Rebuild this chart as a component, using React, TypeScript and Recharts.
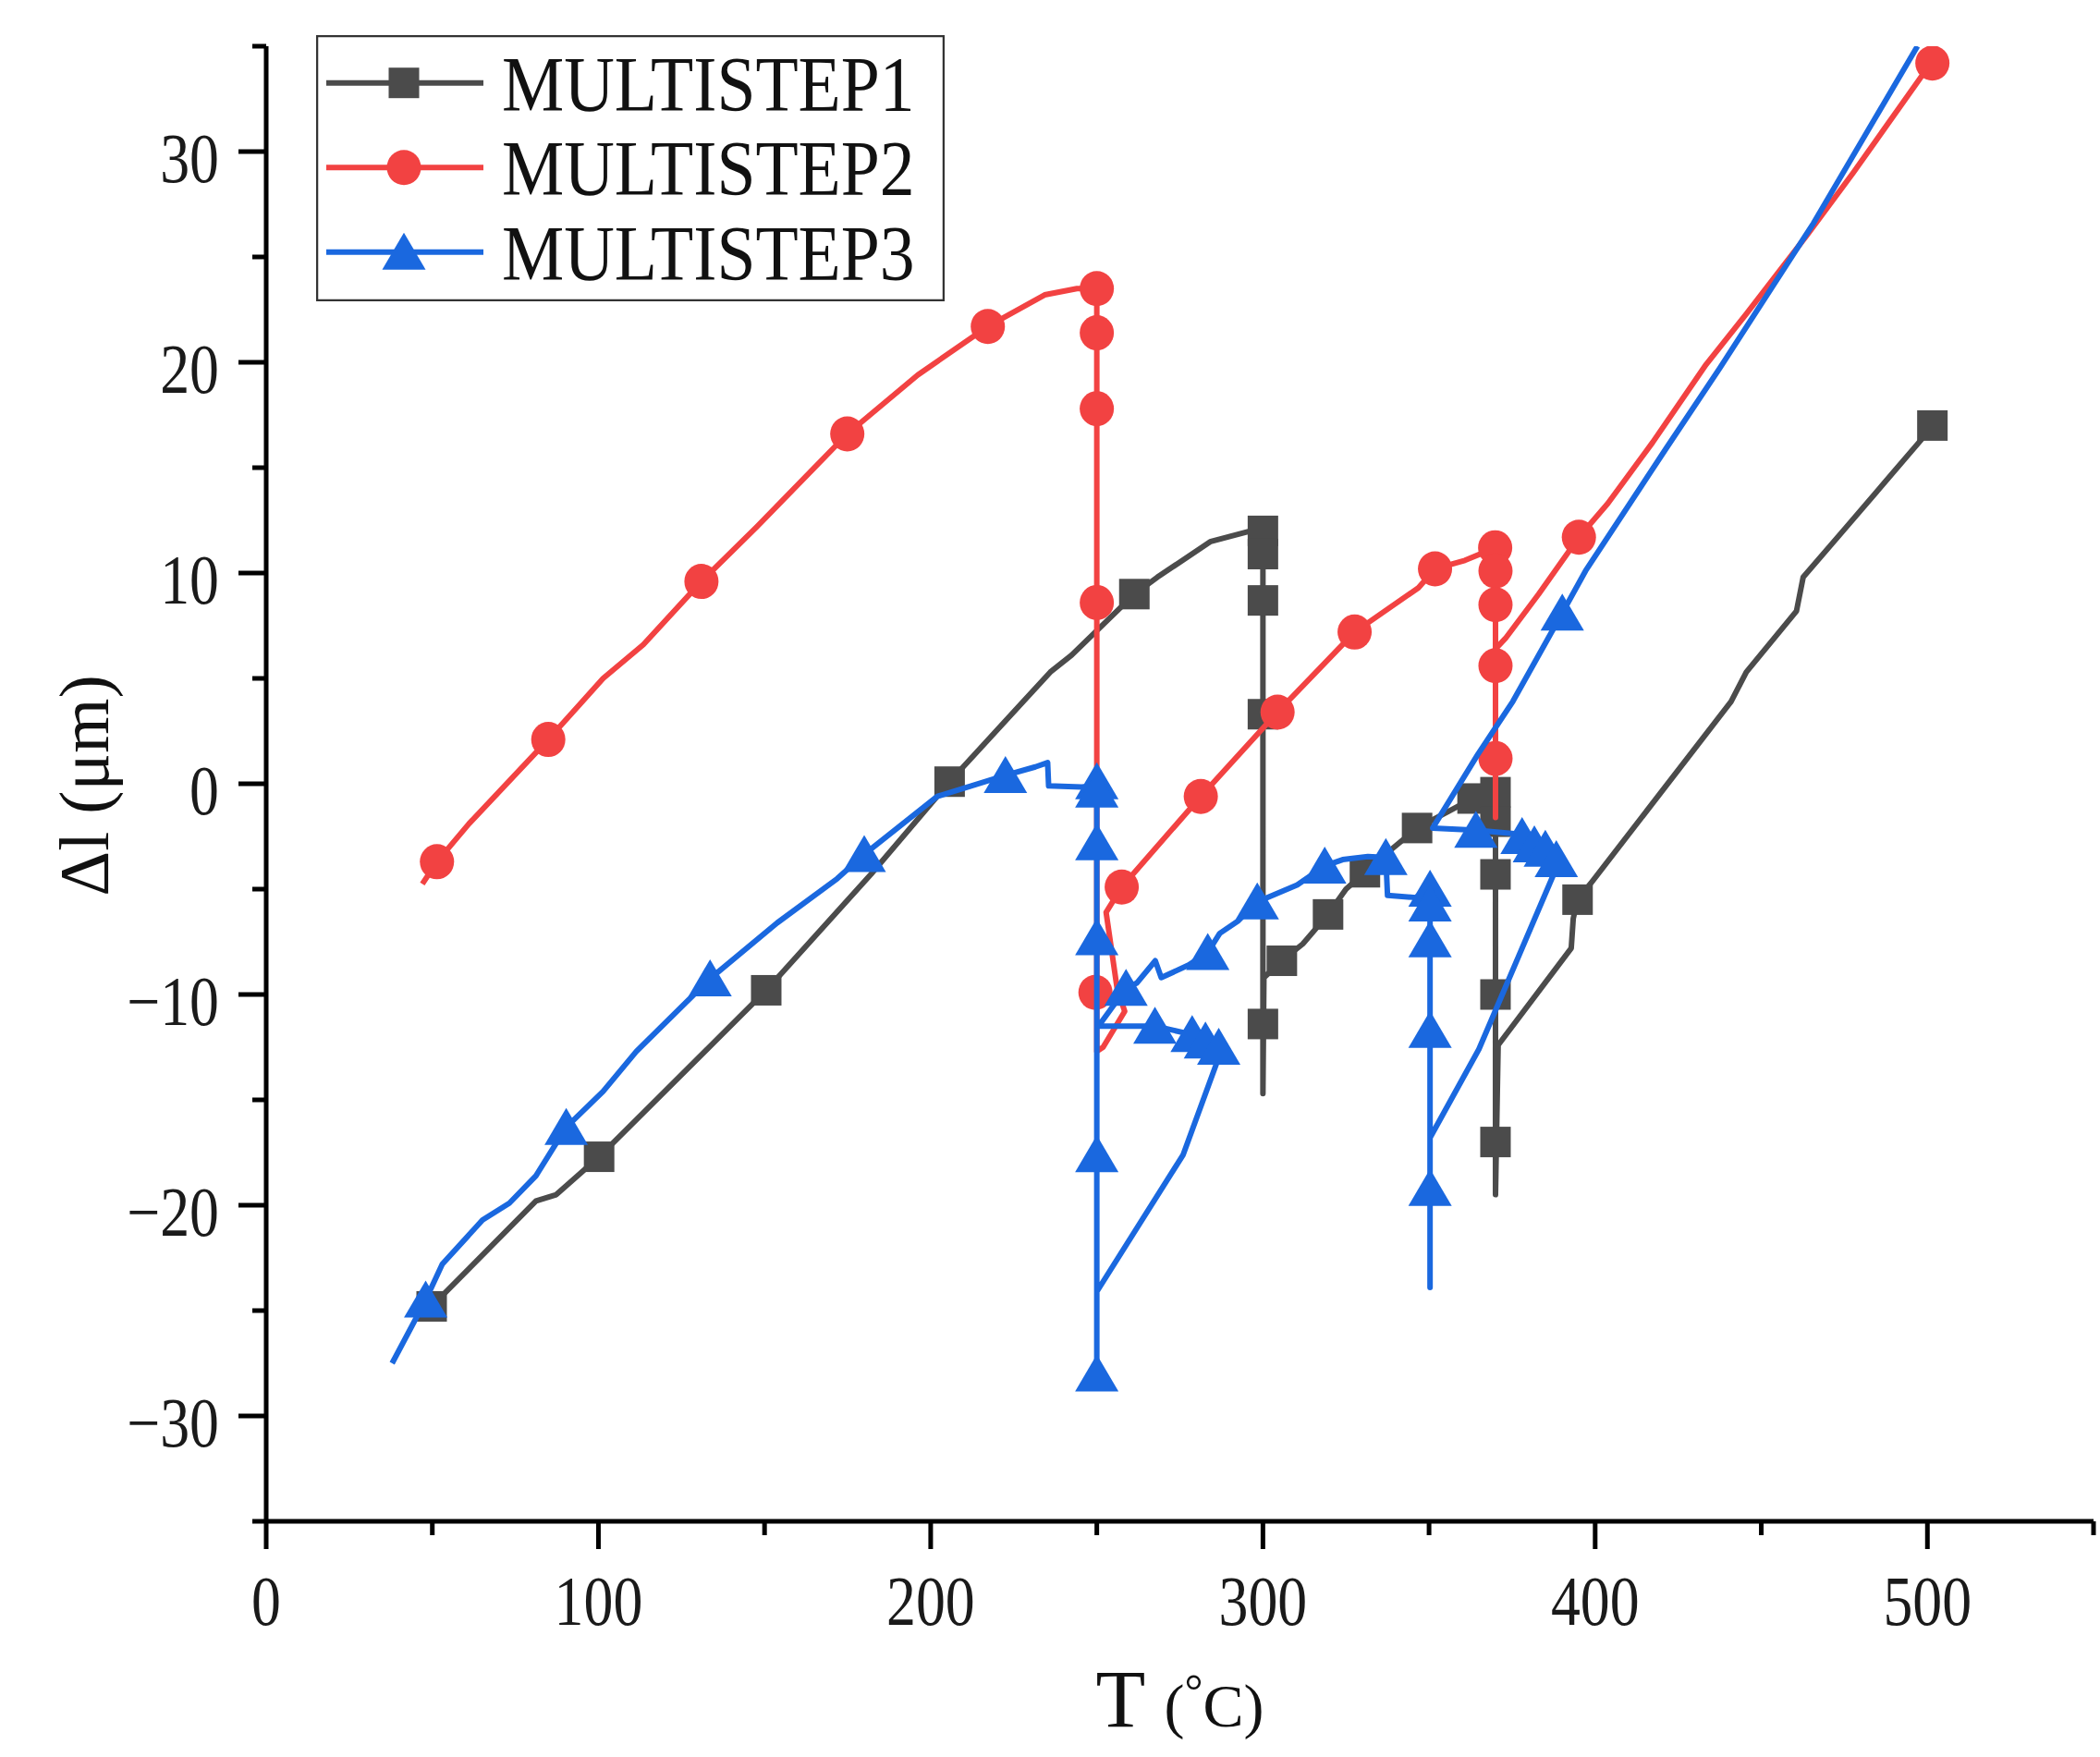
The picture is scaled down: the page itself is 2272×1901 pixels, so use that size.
import React from 'react';
import { ComposedChart, Line, Scatter, XAxis, YAxis, Legend } from 'recharts';

// ---------- MULTISTEP1 (curve) ----------
const ms1Temp = [49.8, 81.2, 87.3, 100.2, 150.5, 182, 205.7, 236, 242.4, 261.3, 268.2, 284.3, 296.4, 300, 300, 300.3, 305.7, 312, 319.6, 325, 330.7, 338, 346.4, 356, 363.1, 370, 370, 370.8, 392.8, 393.4, 394.7, 399.3, 440.9, 445.5, 460.6, 462.6, 475.7, 498, 501.5];
const ms1Dl = [-24.8, -19.8, -19.5, -17.7, -9.8, -4.3, 0.1, 5.3, 6.1, 9.0, 9.8, 11.5, 12.0, 12.1, -14.7, -9.2, -8.4, -7.6, -6.2, -5.0, -4.2, -3.2, -2.1, -1.3, -0.7, -0.4, -19.5, -12.4, -7.8, -6.4, -5.5, -4.6, 3.9, 5.3, 8.2, 9.8, 12.2, 16.3, 17.0];
// MULTISTEP1 (symbols)
const ms1MarkTemp = [49.8, 100.2, 150.5, 205.7, 261.3, 300, 300, 300, 300, 300, 305.7, 319.6, 330.7, 346.4, 363.1, 370, 370, 370, 370, 370, 394.7, 501.5];
const ms1MarkDl = [-24.8, -17.7, -9.8, 0.1, 9.0, 12.0, 10.9, 8.7, 3.3, -11.4, -8.4, -6.2, -4.2, -2.1, -0.7, -0.4, -1.8, -4.3, -10.0, -17.0, -5.5, 17.0];

// ---------- MULTISTEP2 (curve) ----------
const ms2Temp = [47, 51.4, 61, 84.9, 101.4, 113.5, 131, 147.7, 174.9, 196.1, 217.2, 234.3, 244, 250, 250, 251.9, 258.4, 256.1, 252.8, 257.5, 281.3, 304.4, 327.6, 346.8, 351.8, 360.8, 370, 370, 370, 373, 383, 395.1, 403.8, 417.3, 433.4, 445.5, 463.6, 477.7, 497.9, 501.5];
const ms2Dl = [-4.75, -3.7, -1.9, 2.1, 5.0, 6.6, 9.6, 12.2, 16.6, 19.4, 21.7, 23.2, 23.5, 23.5, -12.7, -12.5, -10.8, -9.7, -6.1, -4.9, -0.6, 3.4, 7.2, 9.3, 10.2, 10.6, 11.2, -1.6, 6.4, 6.9, 9.0, 11.7, 13.3, 16.2, 19.9, 22.3, 26.0, 29.0, 33.5, 34.2];
// MULTISTEP2 (symbols)
const ms2MarkTemp = [51.4, 84.9, 131, 174.9, 217.2, 250, 250, 250, 250, 249.6, 257.5, 281.3, 304.4, 327.6, 351.8, 369.9, 370, 370, 370, 370, 395.1, 501.5];
const ms2MarkDl = [-3.7, 2.1, 9.6, 16.6, 21.7, 23.5, 21.4, 17.8, 8.6, -9.9, -4.9, -0.6, 3.4, 7.2, 10.2, 11.2, 10.1, 8.5, 5.6, 1.2, 11.7, 34.2];

// ---------- MULTISTEP3 (curve) ----------
const ms3Temp = [37.9, 48, 53, 65.1, 73.2, 81.2, 90.3, 101.4, 111.4, 133.6, 153.8, 171.9, 180, 202, 222.5, 231.5, 235.2, 235.5, 245.4, 250, 250, 250, 276, 286.2, 287, 282.7, 278.7, 267.5, 250.5, 258.8, 262.1, 267.6, 269.4, 277.7, 283.4, 287, 292.6, 298.3, 310.3, 318.6, 324, 331.6, 337, 337.5, 346, 350.3, 350.3, 350.3, 365, 387.5, 388.3, 385, 381.7, 378, 364.1, 351.1, 364.7, 375.2, 390.1, 397.1, 421.3, 437.4, 465.7, 497];
const ms3Dl = [-27.5, -24.5, -22.8, -20.7, -19.9, -18.6, -16.3, -14.6, -12.7, -9.25, -6.6, -4.5, -3.35, -0.6, 0.4, 0.8, 1.0, -0.1, -0.15, -0.1, -28.6, -24.1, -17.6, -13.2, -12.5, -12.2, -11.9, -11.5, -11.5, -9.7, -9.45, -8.4, -9.2, -8.6, -8.0, -7.1, -6.5, -5.6, -4.8, -3.9, -3.6, -3.45, -3.5, -5.3, -5.4, -4.9, -23.9, -16.8, -12.6, -4.3, -3.6, -3.0, -2.9, -2.4, -2.2, -2.1, 1.4, 3.9, 8.1, 10.1, 15.9, 19.7, 26.6, 35];
// MULTISTEP3 (symbols)
const ms3MarkTemp = [48, 90.3, 133.6, 180, 222.5, 250, 250, 250, 250, 250, 250, 258.8, 267.5, 278.7, 282.7, 286.7, 283.4, 298.3, 318.6, 337, 350.3, 350.3, 350.3, 350.3, 350.3, 364.1, 378, 381.7, 385, 388.3, 390.1];
const ms3MarkDl = [-24.5, -16.3, -9.25, -3.35, 0.4, 0.1, -0.3, -2.8, -7.3, -17.6, -28.0, -9.7, -11.5, -11.9, -12.2, -12.5, -8.0, -5.6, -3.9, -3.5, -5.0, -5.7, -7.4, -11.7, -19.2, -2.2, -2.5, -2.9, -3.1, -3.6, 8.1];

// ---------- axes ----------
const xTicks = [0, 50, 100, 150, 200, 250, 300, 350, 400, 450, 500, 550];
const yTicks = [-35, -30, -25, -20, -15, -10, -5, 0, 5, 10, 15, 20, 25, 30, 35];
const seriesNames = ['MULTISTEP1', 'MULTISTEP2', 'MULTISTEP3'];

const toPoints = (t: number[], l: number[]) => t.map((T, i) => ({ T, L: l[i] }));
const ms1Data = toPoints(ms1Temp, ms1Dl);
const ms2Data = toPoints(ms2Temp, ms2Dl);
const ms3Data = toPoints(ms3Temp, ms3Dl);
const ms1Marks = toPoints(ms1MarkTemp, ms1MarkDl);
const ms2Marks = toPoints(ms2MarkTemp, ms2MarkDl);
const ms3Marks = toPoints(ms3MarkTemp, ms3MarkDl);

const C1 = '#4b4b4b';
const C2 = '#f24242';
const C3 = '#1a68df';
const LW = 6;
const FONT = "'Liberation Serif', 'Times New Roman', serif";

const SquareMark = ({ cx, cy, color = C1 }: any) =>
  cx == null || cy == null ? null : <rect x={cx - 16.5} y={cy - 16.5} width={33} height={33} fill={color} />;
const CircleMark = ({ cx, cy, color = C2 }: any) =>
  cx == null || cy == null ? null : <ellipse cx={cx} cy={cy} rx={18.5} ry={19} fill={color} />;
const TriMark = ({ cx, cy, color = C3 }: any) =>
  cx == null || cy == null ? null : (
    <polygon points={`${cx},${cy - 21} ${cx + 23.5},${cy + 19} ${cx - 23.5},${cy + 19}`} fill={color} />
  );

const XTick = (props: any) => {
  const { x, y, payload } = props;
  const v = payload.value;
  const major = v % 100 === 0;
  return (
    <g>
      <line x1={x} y1={y} x2={x} y2={y + (major ? 30 : 15)} stroke="#000" strokeWidth={5} />
      {major && (
        <text transform={`translate(${x} ${y + 112}) scale(0.84 1)`} textAnchor="middle" fontFamily={FONT} fontSize={76} fill="#1a1a1a">
          {v}
        </text>
      )}
    </g>
  );
};

const YTick = (props: any) => {
  const { x, y, payload } = props;
  const v = payload.value;
  const major = v % 10 === 0;
  const label = v < 0 ? '\u2212' + Math.abs(v) : String(v);
  return (
    <g>
      <line x1={x - (major ? 30 : 15)} y1={y} x2={x} y2={y} stroke="#000" strokeWidth={5} />
      {major && (
        <text transform={`translate(${x - 51} ${y + 33}) scale(0.84 1)`} textAnchor="end" fontFamily={FONT} fontSize={76} fill="#1a1a1a">
          {label}
        </text>
      )}
    </g>
  );
};

const XTitle = (props: any) => {
  const vb = props.viewBox || { x: 288, y: 1646, width: 1977, height: 255 };
  const cx = vb.x + vb.width / 2;
  return (
    <text x={cx} y={vb.y + 222} textAnchor="middle" fontFamily={FONT} fill="#111">
      <tspan fontSize={88}>T </tspan>
      <tspan fontSize={66}>(</tspan>
      <tspan fontSize={50} dy={-22}>°</tspan>
      <tspan fontSize={66} dy={22}>C)</tspan>
    </text>
  );
};

const YTitle = (props: any) => {
  const vb = props.viewBox || { x: 0, y: 50, width: 288, height: 1596 };
  const x = vb.x + 117;
  const y = vb.y + vb.height / 2 + 2;
  return (
    <text x={x} y={y} transform={`rotate(-90 ${x} ${y})`} textAnchor="middle" fontFamily={FONT} fontSize={76} fill="#111">
      Δl (μm)
    </text>
  );
};

const legendColors = [C1, C2, C3];
const legendShapes = [SquareMark, CircleMark, TriMark];

const renderLegend = () => (
  <svg width={680} height={288} style={{ display: 'block' }}>
    <rect x={1} y={1} width={678} height={286} fill="#fff" stroke="#333" strokeWidth={2.5} />
    {seriesNames.map((name, i) => {
      const cy = 51.7 + i * 91.5;
      const Shape = legendShapes[i];
      return (
        <g key={name}>
          <line x1={11} x2={181} y1={cy} y2={cy} stroke={legendColors[i]} strokeWidth={LW} />
          <Shape cx={95} cy={cy} color={legendColors[i]} />
          <text transform={`translate(201 ${cy + 30}) scale(0.9 1)`} fontFamily={FONT} fontSize={84} fill="#111">
            {name}
          </text>
        </g>
      );
    })}
  </svg>
);

export default function App() {
  return (
    <div style={{ position: 'absolute', left: 0, top: 0, width: 2272, height: 1901, background: '#fff', overflow: 'hidden' }}>
      <ComposedChart width={2272} height={1901} margin={{ top: 50, right: 7, bottom: 0, left: 0 }}>
        <XAxis
          type="number"
          dataKey="T"
          domain={[0, 550]}
          ticks={xTicks}
          interval={0}
          allowDataOverflow
          height={255}
          tickSize={0}
          tickMargin={0}
          tickLine={false}
          tick={<XTick />}
          axisLine={{ stroke: '#000', strokeWidth: 5 }}
          label={<XTitle />}
        />
        <YAxis
          type="number"
          dataKey="L"
          domain={[-35, 35]}
          ticks={yTicks}
          interval={0}
          allowDataOverflow
          width={288}
          tickSize={0}
          tickMargin={0}
          tickLine={false}
          tick={<YTick />}
          axisLine={{ stroke: '#000', strokeWidth: 5 }}
          label={<YTitle />}
        />
        <Legend
          content={renderLegend}
          layout="horizontal"
          verticalAlign="middle"
          align="center"
          wrapperStyle={{ left: 342, top: 38, width: 680, height: 288 }}
        />
        <Line data={ms1Data} dataKey="L" name={seriesNames[0]} type="linear" stroke={C1} strokeWidth={LW} strokeLinejoin="round" dot={false} activeDot={false} isAnimationActive={false} zIndex={401} />
        <Scatter data={ms1Marks} dataKey="L" shape={(p: any) => <SquareMark {...p} color={C1} />} legendType="none" isAnimationActive={false} zIndex={402} />
        <Line data={ms2Data} dataKey="L" name={seriesNames[1]} type="linear" stroke={C2} strokeWidth={LW} strokeLinejoin="round" dot={false} activeDot={false} isAnimationActive={false} zIndex={403} />
        <Scatter data={ms2Marks} dataKey="L" shape={(p: any) => <CircleMark {...p} color={C2} />} legendType="none" isAnimationActive={false} zIndex={404} />
        <Line data={ms3Data} dataKey="L" name={seriesNames[2]} type="linear" stroke={C3} strokeWidth={LW} strokeLinejoin="round" dot={false} activeDot={false} isAnimationActive={false} zIndex={405} />
        <Scatter data={ms3Marks} dataKey="L" shape={(p: any) => <TriMark {...p} color={C3} />} legendType="none" isAnimationActive={false} zIndex={406} />
      </ComposedChart>
    </div>
  );
}
